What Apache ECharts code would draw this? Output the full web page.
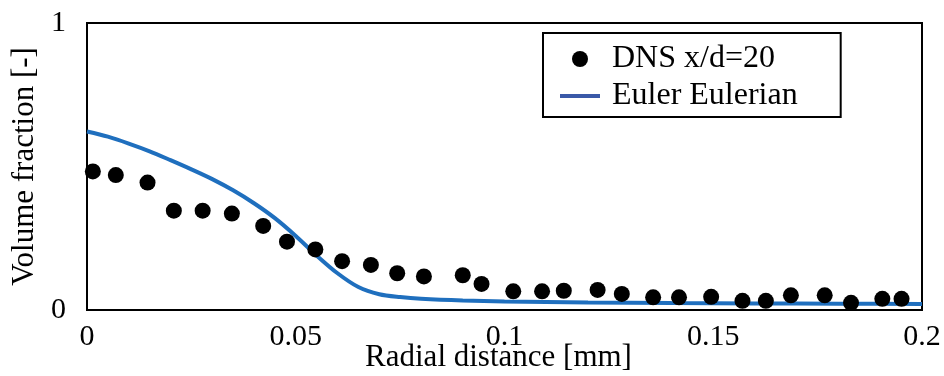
<!DOCTYPE html>
<html><head><meta charset="utf-8">
<script src="https://cdn.jsdelivr.net/npm/echarts@6/dist/echarts.min.js"></script>
<style>html,body{margin:0;padding:0;background:#fff}#c{width:944px;height:376px}</style>
</head><body><div id="c"></div>
<script>
var xTicks = [0, 0.05, 0.1, 0.15, 0.2];
var yTicks = [0, 1];
var dnsX = [0.0014,0.0069,0.0145,0.0208,0.0277,0.0347,0.0422,0.0479,0.0547,0.0611,0.068,0.0743,0.0807,0.09,0.0945,0.1021,0.109,0.1142,0.1223,0.1281,0.1356,0.1418,0.1495,0.157,0.1626,0.1686,0.1767,0.183,0.1905,0.1951];
var dnsY = [0.483,0.470,0.444,0.346,0.346,0.336,0.293,0.238,0.211,0.170,0.157,0.128,0.117,0.121,0.091,0.065,0.065,0.067,0.070,0.056,0.044,0.044,0.046,0.032,0.032,0.051,0.051,0.025,0.039,0.039];
var eulerX = [0,0.005,0.01,0.015,0.02,0.025,0.03,0.035,0.04,0.045,0.05,0.055,0.06,0.065,0.07,0.075,0.08,0.09,0.1,0.12,0.14,0.16,0.18,0.2];
var eulerY = [0.622,0.604,0.58,0.553,0.522,0.49,0.456,0.417,0.372,0.32,0.258,0.19,0.128,0.08,0.055,0.045,0.039,0.033,0.03,0.026,0.024,0.023,0.022,0.021];

var font = '"Liberation Serif","Times New Roman",serif';
var chart = echarts.init(document.getElementById('c'), null, {renderer:'canvas'});
chart.setOption({
  animation:false,
  backgroundColor:'#fff',
  grid:{left:87,right:22,top:23,bottom:66,show:true,borderColor:'#000',borderWidth:2,containLabel:false,outerBoundsMode:'none'},
  legend:{
    orient:'vertical', left:543, top:33,
    padding:[10,43,5,17], itemGap:5, itemWidth:40, itemHeight:16,
    borderColor:'#000', borderWidth:2, backgroundColor:'#fff',
    textStyle:{fontFamily:font,fontSize:32,color:'#000',padding:[0,0,0,7]},
    data:[
      {name:'DNS x/d=20', icon:'circle', itemStyle:{color:'#000',opacity:1}},
      {name:'Euler Eulerian', icon:'path://M0,0 M0,6 L40,6 L40,10 L0,10 Z M40,16', itemStyle:{color:'#3a59a8'}}
    ]
  },
  xAxis:{
    type:'value', min:0, max:0.2, interval:0.05,
    axisLine:{show:true,lineStyle:{color:'#000',width:2}},
    axisTick:{show:false}, splitLine:{show:false},
    axisLabel:{fontFamily:font,fontSize:30,color:'#000',margin:12,
      formatter:function(v){var s=xTicks.find(function(t){return Math.abs(t-v)<1e-9;});return s===undefined?'':String(s);}},
    name:'Radial distance [mm]', nameLocation:'middle', nameGap:32, nameMoveOverlap:false,
    nameTextStyle:{fontFamily:font,fontSize:31,color:'#000',padding:[0,12,0,0]}
  },
  yAxis:{
    type:'value', min:0, max:1, interval:1,
    axisLine:{show:true,lineStyle:{color:'#000',width:2}},
    axisTick:{show:false}, splitLine:{show:false},
    axisLabel:{fontFamily:font,fontSize:30,color:'#000',margin:21,
      formatter:function(v){return yTicks.indexOf(v)>=0?String(v):'';}},
    name:'Volume fraction [-]', nameLocation:'middle', nameGap:47, nameMoveOverlap:false,
    nameTextStyle:{fontFamily:font,fontSize:31,color:'#000'}
  },
  series:[
    {name:'DNS x/d=20', type:'scatter', symbol:'circle', symbolSize:16,
     itemStyle:{color:'#000',opacity:1}, z:3,
     data:dnsX.map(function(x,i){return [x,dnsY[i]];})},
    {name:'Euler Eulerian', type:'line', symbol:'none', showSymbol:false, smooth:0.3,
     lineStyle:{color:'#1f6fbe',width:4}, itemStyle:{color:'#3a59a8'}, z:2,
     data:eulerX.map(function(x,i){return [x,eulerY[i]];})}
  ]
});
</script></body></html>
